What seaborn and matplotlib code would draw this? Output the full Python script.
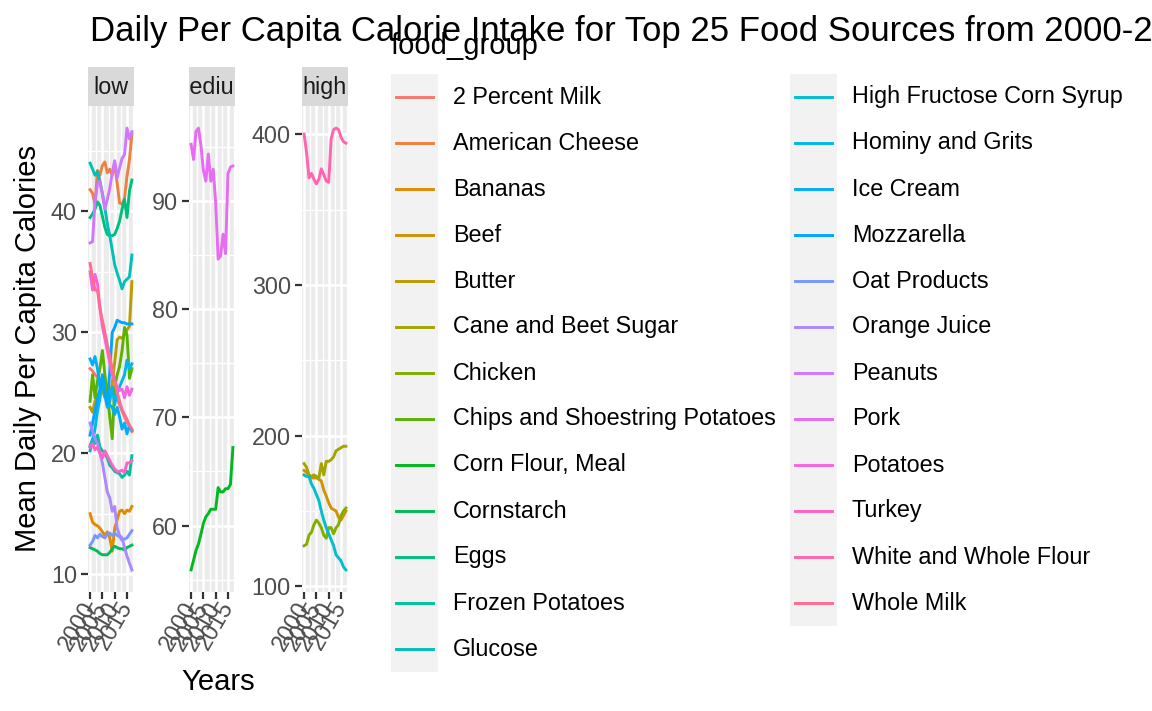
import numpy as np
import pandas as pd
import matplotlib
import matplotlib.pyplot as plt
import seaborn as sns
from matplotlib.ticker import MultipleLocator
from matplotlib.patches import Rectangle
from matplotlib.lines import Line2D

plt.rcParams['font.family'] = ['Liberation Sans', 'DejaVu Sans']

# ---- data ----
years = list(range(2000, 2018))

food_groups = ['2 Percent Milk', 'American Cheese', 'Bananas', 'Beef', 'Butter',
               'Cane and Beet Sugar', 'Chicken', 'Chips and Shoestring Potatoes',
               'Corn Flour, Meal', 'Cornstarch', 'Eggs', 'Frozen Potatoes', 'Glucose',
               'High Fructose Corn Syrup', 'Hominy and Grits', 'Ice Cream', 'Mozzarella',
               'Oat Products', 'Orange Juice', 'Peanuts', 'Pork', 'Potatoes', 'Turkey',
               'White and Whole Flour', 'Whole Milk']

levels = ['low', 'medium', 'high']
high_foods = ['Beef', 'Cane and Beet Sugar', 'Chicken', 'High Fructose Corn Syrup',
              'White and Whole Flour']
medium_foods = ['Corn Flour, Meal', 'Pork']

two_percent_milk = [27.0, 26.8, 26.5, 26.3, 26.0, 26.2, 25.8, 25.5, 25.3, 25.4, 25.0, 24.5, 24.0, 23.5, 23.0, 22.6, 22.2, 21.8]
american_cheese = [41.8, 41.5, 40.6, 43.4, 43.0, 43.8, 44.1, 43.2, 43.5, 43.0, 44.0, 42.3, 40.7, 40.6, 41.1, 42.9, 44.3, 46.4]
bananas = [15.0, 14.3, 14.1, 14.0, 13.8, 13.5, 13.2, 13.5, 13.0, 11.9, 13.8, 14.5, 15.2, 15.3, 15.0, 15.3, 15.2, 15.6]
beef = [177, 175.6, 174, 172, 172, 172, 171, 170, 164, 160, 155.5, 152, 151, 150, 146, 144, 147, 150]
butter = [23.8, 23.4, 24.3, 24.8, 25.0, 25.2, 24.6, 25.0, 24.2, 25.8, 27.5, 29.4, 29.6, 29.5, 29.8, 30.2, 30.5, 34.2]
cane_beet_sugar = [181.5, 179, 174, 173, 174, 173, 172, 181.5, 174, 183, 183, 184, 186, 190, 191, 192, 193, 193]
chicken = [127, 128, 134, 136, 141, 144, 142, 139, 134, 132, 139, 139, 135, 139, 141, 147, 150, 152]
chips = [24.3, 26.5, 24.6, 26.0, 27.0, 28.5, 26.5, 25.0, 23.0, 21.2, 25.5, 26.5, 27.2, 28.5, 30.4, 29.8, 26.2, 27.0]
corn_flour = [55.9, 56.8, 57.7, 58.3, 59.2, 60.2, 60.8, 61.1, 61.5, 61.5, 61.5, 63.5, 63.1, 63.1, 63.4, 63.4, 63.8, 67.2]
cornstarch = [12.2, 12.1, 12.0, 11.9, 11.7, 11.6, 11.6, 11.6, 11.8, 12.1, 12.3, 12.2, 12.1, 12.1, 12.0, 12.2, 12.3, 12.4]
eggs = [39.5, 39.8, 40.2, 40.8, 40.5, 39.6, 38.7, 38.1, 38.0, 38.0, 38.1, 38.6, 39.2, 40.2, 41.0, 39.5, 41.7, 42.6]
frozen_potatoes = [20.6, 21.2, 20.8, 21.5, 20.5, 20.2, 20.0, 19.6, 19.0, 18.8, 18.5, 18.4, 18.3, 18.0, 18.2, 18.5, 18.2, 19.8]
glucose = [44.0, 43.5, 43.0, 43.3, 42.5, 41.5, 40.3, 39.0, 38.0, 36.8, 35.6, 34.9, 34.3, 33.6, 34.2, 34.4, 34.6, 36.4]
hfcs = [174, 173, 173, 168, 165, 161, 157, 150, 144, 139, 135, 131, 127, 121, 119, 117, 113, 111]
hominy_grits = [20.2, 21.0, 22.0, 23.5, 24.5, 26.0, 24.8, 23.8, 24.5, 25.5, 24.0, 25.0, 25.5, 26.0, 26.5, 27.7, 27.0, 27.4]
ice_cream = [27.8, 27.3, 28.0, 27.0, 25.5, 26.3, 25.0, 24.5, 24.0, 23.8, 23.2, 23.8, 23.0, 22.0, 22.5, 21.6, 22.3, 21.9]
mozzarella = [21.5, 22.5, 23.5, 24.5, 25.3, 26.5, 25.0, 24.0, 26.8, 30.0, 30.4, 31.0, 30.9, 30.8, 30.8, 30.7, 30.7, 30.7]
oat_products = [12.4, 12.7, 13.2, 13.0, 13.3, 13.1, 13.0, 13.3, 13.4, 13.2, 13.4, 13.2, 13.1, 12.8, 12.9, 13.0, 13.3, 13.6]
orange_juice = [22.5, 21.8, 21.2, 20.8, 20.0, 19.2, 18.0, 16.8, 16.3, 15.2, 15.6, 13.8, 13.2, 13.0, 12.2, 11.5, 10.9, 10.35]
peanuts = [37.4, 37.5, 40.8, 42.3, 42.5, 41.4, 40.2, 41.0, 41.9, 43.2, 44.2, 42.8, 43.6, 44.4, 44.7, 46.9, 46.0, 46.6]
pork = [95.2, 93.8, 96.4, 96.7, 95.1, 92.8, 91.8, 94.3, 91.8, 92.9, 89.8, 84.6, 84.9, 86.9, 85.1, 92.5, 93.1, 93.2]
potatoes = [35.0, 33.5, 34.8, 34.0, 32.0, 30.5, 29.5, 28.5, 27.5, 26.5, 26.0, 25.5, 25.2, 25.3, 24.6, 25.5, 24.8, 25.3]
turkey = [20.5, 20.8, 20.3, 20.5, 20.0, 19.6, 20.2, 19.8, 19.4, 19.0, 18.7, 18.5, 18.5, 18.6, 18.4, 19.2, 19.2, 19.4]
white_whole_flour = [400, 388, 371, 374, 370, 367, 370, 377, 373, 369, 368, 397, 403, 404, 403, 398, 395, 394]
whole_milk = [35.7, 34.5, 33.5, 33.5, 32.0, 31.0, 30.0, 29.0, 28.0, 27.0, 26.0, 25.0, 24.3, 23.6, 23.2, 22.8, 22.3, 22.0]

series = [two_percent_milk, american_cheese, bananas, beef, butter, cane_beet_sugar, chicken,
          chips, corn_flour, cornstarch, eggs, frozen_potatoes, glucose, hfcs, hominy_grits,
          ice_cream, mozzarella, oat_products, orange_juice, peanuts, pork, potatoes, turkey,
          white_whole_flour, whole_milk]

rows = []
for name, vals in zip(food_groups, series):
    lvl = 'high' if name in high_foods else ('medium' if name in medium_foods else 'low')
    for yr, v in zip(years, vals):
        rows.append((name, lvl, yr, v))
df = pd.DataFrame(rows, columns=['food_group', 'level', 'year', 'calories'])


# ggplot-like hue palette (hcl, c=100, l=65)
def hcl_hex(h, c=100.0, l=65.0):
    h = np.deg2rad(h)
    u, v = c * np.cos(h), c * np.sin(h)
    xn, yn, zn = 95.047, 100.0, 108.883
    den = xn + 15 * yn + 3 * zn
    un, vn = 4 * xn / den, 9 * yn / den
    y = yn * ((l + 16) / 116) ** 3
    up = u / (13 * l) + un
    vp = v / (13 * l) + vn
    x = y * 9 * up / (4 * vp)
    z = y * (12 - 3 * up - 20 * vp) / (4 * vp)
    xyz = np.array([x, y, z]) / 100
    m = np.array([[3.240479, -1.537150, -0.498535],
                  [-0.969256, 1.875992, 0.041556],
                  [0.055648, -0.204043, 1.057311]])
    rgb = m @ xyz
    rgb = np.clip(rgb, 0, None)
    rgb = np.where(rgb <= 0.0031308, 12.92 * rgb, 1.055 * rgb ** (1 / 2.4) - 0.055)
    return matplotlib.colors.to_hex(np.clip(rgb, 0, 1))


n = len(food_groups)
palette = {f: hcl_hex(15 + i * 360 / n) for i, f in enumerate(food_groups)}

# ---- figure ----
W, H = 1152, 711
fig = plt.figure(figsize=(W / 100, H / 100), dpi=100)


def rect(x0, y0, x1, y1):
    return [x0 / W, 1 - y1 / H, (x1 - x0) / W, (y1 - y0) / H]


panels = {'low': (88, 134), 'medium': (189, 235), 'high': (302, 348)}
ysteps = {'low': 10, 'medium': 10, 'high': 100}
top, bottom, strip_top = 106, 592, 67

for lvl in levels:
    x0, x1 = panels[lvl]
    ax = fig.add_axes(rect(x0, top, x1, bottom))
    sub = df[df['level'] == lvl]
    order = [f for f in food_groups if f in set(sub['food_group'])]
    sns.lineplot(data=sub, x='year', y='calories', hue='food_group', hue_order=order,
                 palette=palette, legend=False, ax=ax, linewidth=2.1)
    ax.set_facecolor('#EBEBEB')
    for s in ax.spines.values():
        s.set_visible(False)
    ax.margins(x=0.05, y=0.05)
    ax.xaxis.set_major_locator(MultipleLocator(5))
    ax.xaxis.set_minor_locator(MultipleLocator(2.5))
    ax.yaxis.set_major_locator(MultipleLocator(ysteps[lvl]))
    ax.yaxis.set_minor_locator(MultipleLocator(ysteps[lvl] / 2))
    ax.grid(which='major', color='white', linewidth=1.9)
    ax.grid(which='minor', color='white', linewidth=0.95)
    ax.set_axisbelow(True)
    ax.tick_params(which='major', length=5, width=1.6, color='#333333',
                   labelcolor='#4D4D4D', labelsize=16.8, pad=3)
    ax.tick_params(which='minor', length=0)
    ax.set_xlabel('')
    ax.set_ylabel('')
    for lab in ax.get_xticklabels():
        lab.set_rotation(60)
        lab.set_ha('right')
        lab.set_va('center')
        lab.set_rotation_mode('anchor')

    sax = fig.add_axes(rect(x0, strip_top, x1, top))
    sax.set_facecolor('#D9D9D9')
    sax.set_xticks([])
    sax.set_yticks([])
    for s in sax.spines.values():
        s.set_visible(False)
    sax.text(0.5, 0.48, lvl, ha='center', va='center', transform=sax.transAxes,
             fontsize=16.8, color='#1A1A1A', clip_on=True)

fig.text(90 / W, 1 - 41 / H,
         'Daily Per Capita Calorie Intake for Top 25 Food Sources from 2000-2017',
         ha='left', va='baseline', fontsize=25, color='black')
fig.text(28 / W, 1 - 349 / H, 'Mean Daily Per Capita Calories', rotation=90,
         ha='center', va='center', fontsize=21)
fig.text(218 / W, 1 - 682 / H, 'Years', ha='center', va='center', fontsize=21)

# legend drawn ggplot-style
fig.text(391 / W, 1 - 54 / H, 'food_group', ha='left', va='baseline', fontsize=21)
for i, f in enumerate(food_groups):
    col, row = divmod(i, 13)
    kx = 391 + col * 399
    ky = 74 + row * 46
    fig.patches.append(Rectangle((kx / W, 1 - (ky + 46) / H), 47 / W, 46 / H,
                                 transform=fig.transFigure, facecolor='#F2F2F2',
                                 edgecolor='none'))
    fig.lines.append(Line2D([(kx + 5) / W, (kx + 42) / W], [1 - (ky + 23) / H] * 2,
                            transform=fig.transFigure, color=palette[f], linewidth=2.1))
    fig.text((kx + 62) / W, 1 - (ky + 23) / H, f, ha='left', va='center', fontsize=16.8)

fig.savefig('out.png', dpi=100)
